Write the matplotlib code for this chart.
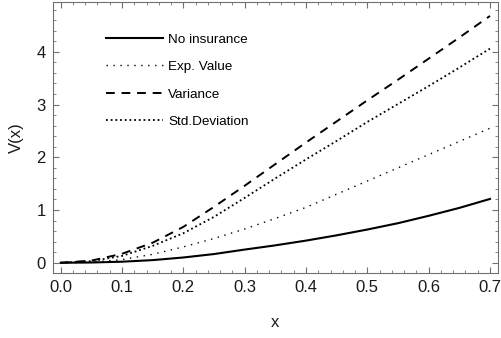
import matplotlib
matplotlib.use("Agg")
import matplotlib.pyplot as plt
from matplotlib.ticker import MultipleLocator

plt.rcParams['font.family'] = ['Liberation Sans', 'DejaVu Sans']

x = [0.0, 0.05, 0.1, 0.15, 0.2, 0.25, 0.3, 0.35, 0.4, 0.45, 0.5, 0.55, 0.6, 0.65, 0.7]
no_insurance = [0.0, 0.005, 0.02, 0.05, 0.10, 0.165, 0.25, 0.33, 0.42, 0.52, 0.63, 0.75, 0.89, 1.04, 1.21]
exp_value = [0.0, 0.01, 0.06, 0.16, 0.30, 0.46, 0.64, 0.84, 1.05, 1.30, 1.55, 1.80, 2.05, 2.30, 2.55]
variance = [0.0, 0.04, 0.17, 0.38, 0.68, 1.06, 1.46, 1.87, 2.28, 2.68, 3.08, 3.47, 3.87, 4.27, 4.68]
std_dev = [0.0, 0.03, 0.13, 0.32, 0.56, 0.87, 1.23, 1.60, 1.96, 2.31, 2.67, 3.01, 3.35, 3.70, 4.06]

labels = ["No insurance", "Exp. Value", "Variance", "Std.Deviation"]

fig = plt.figure(figsize=(5.02, 3.38), dpi=100)
ax = fig.add_axes([0.105, 0.1914, 0.8864, 0.8036])

ax.plot(x, no_insurance, color='black', lw=1.5, label=labels[0])
ax.plot(x, exp_value, color='black', lw=1.0, linestyle=(0, (1, 4)), label=labels[1])
ax.plot(x, variance, color='black', lw=1.4, linestyle=(0, (4.5, 3.5)), label=labels[2])
ax.plot(x, std_dev, color='black', lw=1.3, linestyle=(0, (1, 1.6)), label=labels[3])

ax.set_xlim(-0.013, 0.7126)
ax.set_ylim(-0.2, 4.95)
ax.xaxis.set_major_locator(MultipleLocator(0.1))
ax.xaxis.set_minor_locator(MultipleLocator(0.02))
ax.yaxis.set_major_locator(MultipleLocator(1))
ax.yaxis.set_minor_locator(MultipleLocator(0.2))
ax.set_xticks([0.0, 0.1, 0.2, 0.3, 0.4, 0.5, 0.6, 0.7])
ax.set_xticklabels(["0.0", "0.1", "0.2", "0.3", "0.4", "0.5", "0.6", "0.7"])

frame_col = '#707070'
for s in ax.spines.values():
    s.set_color(frame_col)
    s.set_linewidth(0.8)
ax.tick_params(which='both', direction='in', top=True, right=True, color=frame_col,
               labelsize=12, labelcolor='#1a1a1a')
ax.tick_params(which='major', length=4.5, width=0.8, pad=5)
ax.tick_params(which='minor', length=2.5, width=0.6)

ax.set_xlabel("x", fontsize=12, color='#1a1a1a', labelpad=14)
ax.set_ylabel("V(x)", fontsize=12, color='#1a1a1a', labelpad=9)

ax.legend(loc='upper left', bbox_to_anchor=(0.12, 0.884), frameon=False, fontsize=9.7,
          handlelength=4.2, handletextpad=0.4, labelspacing=1.12, borderpad=0,
          borderaxespad=0)

fig.savefig("out.png", dpi=100)
